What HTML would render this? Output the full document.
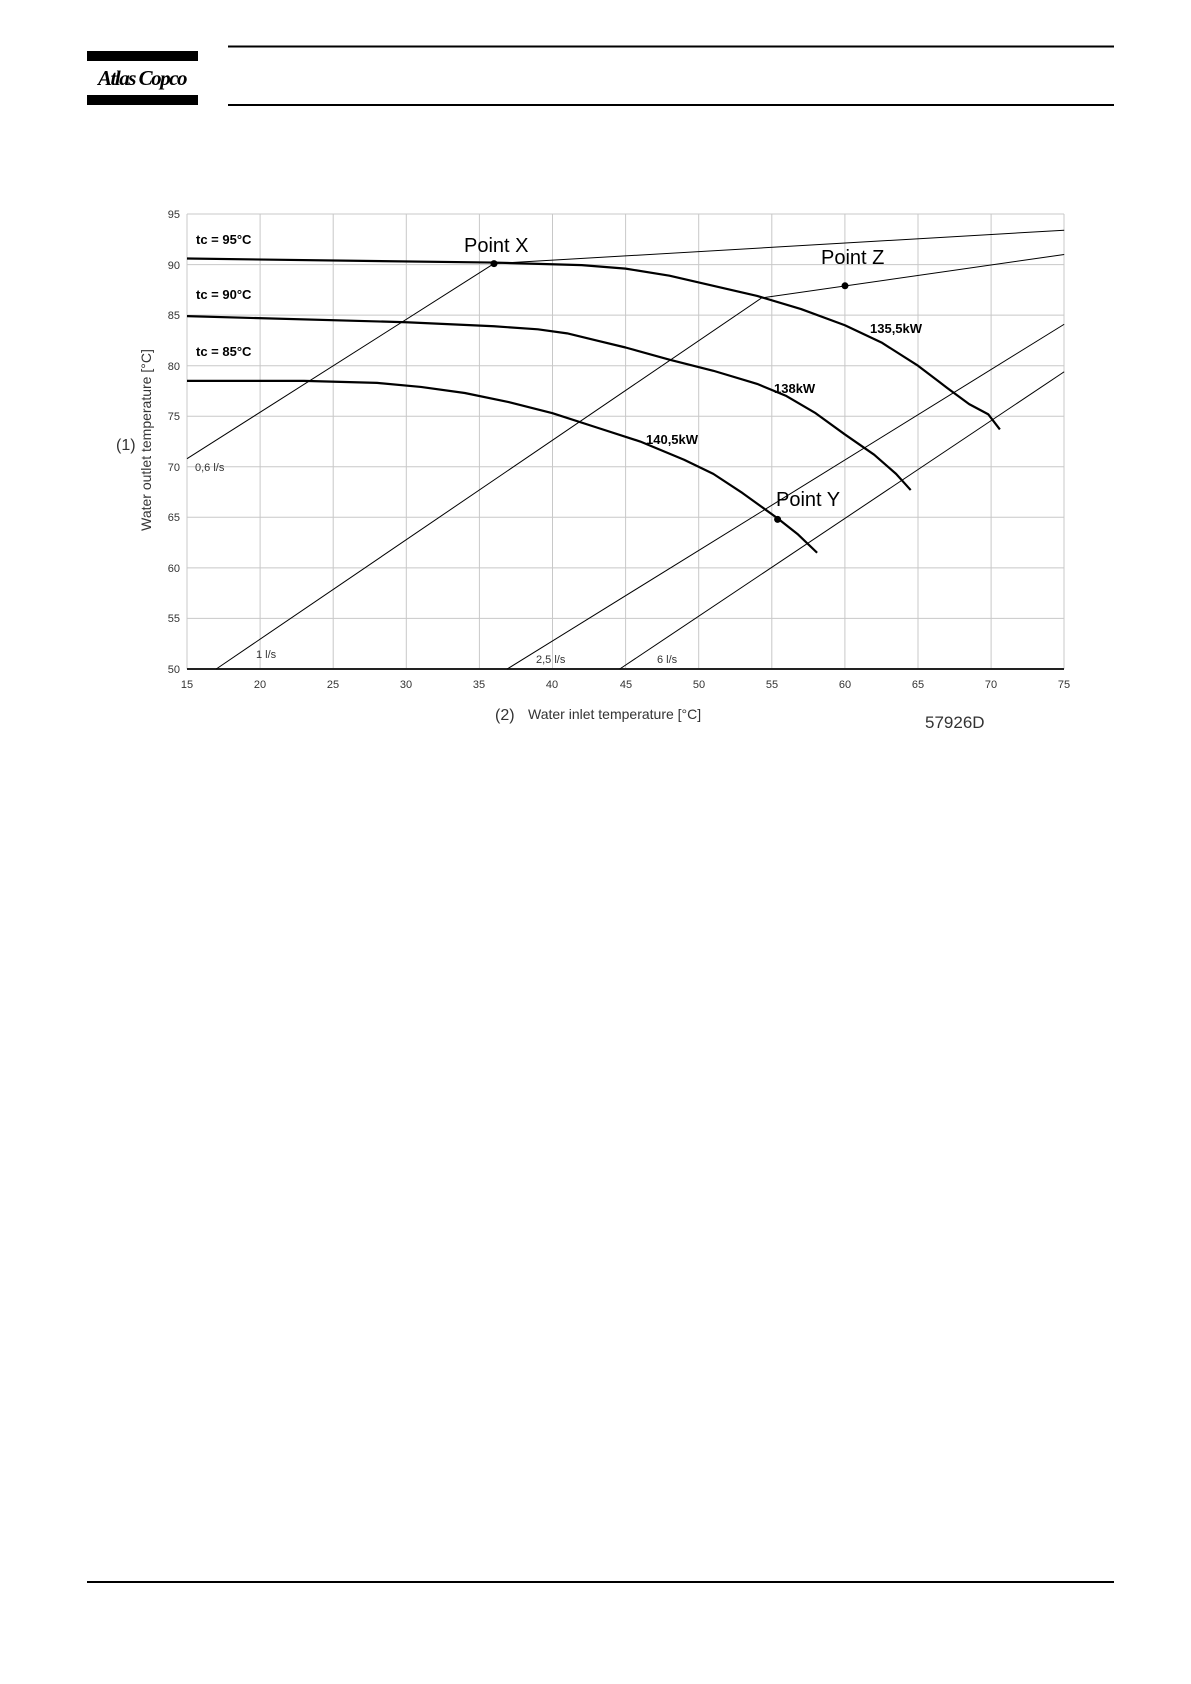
<!DOCTYPE html>
<html><head><meta charset="utf-8"><style>
body{margin:0;background:#fff;width:1191px;height:1684px;position:relative;overflow:hidden;font-family:"Liberation Sans",sans-serif}
</style></head><body>
<svg width="1191" height="1684" style="position:absolute;left:0;top:0">
<rect x="87" y="51" width="111" height="10" fill="#000"/>
<rect x="87" y="95" width="111" height="10" fill="#000"/>
<text x="142" y="85" text-anchor="middle" font-family="Liberation Serif" font-style="italic" font-weight="bold" font-size="21" letter-spacing="-1.5">Atlas Copco</text>
<line x1="228" y1="46.5" x2="1114" y2="46.5" stroke="#000" stroke-width="2"/>
<line x1="228" y1="105" x2="1114" y2="105" stroke="#000" stroke-width="2"/>
<line x1="87" y1="1582" x2="1114" y2="1582" stroke="#000" stroke-width="2"/>
<g stroke="#c8c8c8" stroke-width="1">
<line x1="187" y1="214" x2="1064" y2="214"/><line x1="187" y1="264.6" x2="1064" y2="264.6"/><line x1="187" y1="315.1" x2="1064" y2="315.1"/><line x1="187" y1="365.7" x2="1064" y2="365.7"/><line x1="187" y1="416.2" x2="1064" y2="416.2"/><line x1="187" y1="466.8" x2="1064" y2="466.8"/><line x1="187" y1="517.3" x2="1064" y2="517.3"/><line x1="187" y1="567.9" x2="1064" y2="567.9"/><line x1="187" y1="618.4" x2="1064" y2="618.4"/>
<line x1="187" y1="214" x2="187" y2="669"/><line x1="260.1" y1="214" x2="260.1" y2="669"/><line x1="333.2" y1="214" x2="333.2" y2="669"/><line x1="406.3" y1="214" x2="406.3" y2="669"/><line x1="479.4" y1="214" x2="479.4" y2="669"/><line x1="552.5" y1="214" x2="552.5" y2="669"/><line x1="625.6" y1="214" x2="625.6" y2="669"/><line x1="698.7" y1="214" x2="698.7" y2="669"/><line x1="771.8" y1="214" x2="771.8" y2="669"/><line x1="844.9" y1="214" x2="844.9" y2="669"/><line x1="918" y1="214" x2="918" y2="669"/><line x1="991.1" y1="214" x2="991.1" y2="669"/><line x1="1064" y1="214" x2="1064" y2="669"/>
</g>
<line x1="187" y1="669" x2="1064" y2="669" stroke="#222" stroke-width="2"/>
<g transform="translate(-32.3,1174.5) scale(14.62,-10.11)" fill="none" stroke="#000">
<polyline vector-effect="non-scaling-stroke" stroke-width="1" points="36,90.1 75,93.4"/>
<polyline vector-effect="non-scaling-stroke" stroke-width="1" points="15,70.8 36,90.1"/>
<polyline vector-effect="non-scaling-stroke" stroke-width="1" points="17,50 54.3,86.7 75,91"/>
<polyline vector-effect="non-scaling-stroke" stroke-width="1" points="36.9,50 75,84.1"/>
<polyline vector-effect="non-scaling-stroke" stroke-width="1" points="44.6,50 75,79.4"/>
<polyline vector-effect="non-scaling-stroke" stroke-width="2.2" stroke-linejoin="round" points="15,90.6 36,90.2 42,89.95 45,89.6 48,88.9 51,87.9 54,86.9 57,85.6 60,84 62.5,82.3 65,80 67,77.8 68.5,76.2 69.8,75.2 70.6,73.7"/>
<polyline vector-effect="non-scaling-stroke" stroke-width="2.2" stroke-linejoin="round" points="15,84.9 30,84.3 36,83.9 39,83.6 41,83.2 43,82.5 45,81.8 48,80.6 51,79.5 54,78.2 56,77 58,75.3 60,73.2 62,71.2 63.5,69.3 64.5,67.7"/>
<polyline vector-effect="non-scaling-stroke" stroke-width="2.2" stroke-linejoin="round" points="15,78.5 23,78.5 28,78.3 31,77.9 34,77.3 37,76.4 40,75.3 43,73.9 46,72.5 49,70.7 51,69.3 53,67.4 55.4,64.9 56.8,63.3 58.1,61.5"/>
</g>
<circle cx="494" cy="263.6" r="3.5"/><circle cx="845" cy="285.8" r="3.5"/><circle cx="777.6" cy="519.4" r="3.5"/>
<g font-size="11" fill="#333" text-anchor="end">
<text x="180" y="218">95</text><text x="180" y="269">90</text><text x="180" y="319">85</text><text x="180" y="370">80</text><text x="180" y="420">75</text><text x="180" y="471">70</text><text x="180" y="521">65</text><text x="180" y="572">60</text><text x="180" y="622">55</text><text x="180" y="673">50</text>
</g>
<g font-size="11" fill="#333" text-anchor="middle">
<text x="187" y="688">15</text><text x="260" y="688">20</text><text x="333" y="688">25</text><text x="406" y="688">30</text><text x="479" y="688">35</text><text x="552" y="688">40</text><text x="626" y="688">45</text><text x="699" y="688">50</text><text x="772" y="688">55</text><text x="845" y="688">60</text><text x="918" y="688">65</text><text x="991" y="688">70</text><text x="1064" y="688">75</text>
</g>
<g font-weight="bold" font-size="13">
<text x="196" y="244">tc = 95°C</text><text x="196" y="299">tc = 90°C</text><text x="196" y="356">tc = 85°C</text>
<text x="870" y="333">135,5kW</text><text x="774" y="393">138kW</text><text x="646" y="444">140,5kW</text>
</g>
<g font-size="20">
<text x="464" y="252">Point X</text><text x="821" y="264">Point Z</text><text x="776" y="506">Point Y</text>
</g>
<g font-size="11" fill="#333">
<text x="195" y="471">0,6 l/s</text><text x="256" y="658">1 l/s</text><text x="536" y="663">2,5 l/s</text><text x="657" y="663">6 l/s</text>
</g>
<text x="151" y="440" font-size="14" fill="#333" transform="rotate(-90 151 440)" text-anchor="middle">Water outlet temperature [°C]</text>
<text x="116" y="450" font-size="16" fill="#333">(1)</text>
<text x="495" y="720" font-size="16" fill="#333">(2)</text>
<text x="528" y="719" font-size="14" fill="#333">Water inlet temperature [°C]</text>
<text x="925" y="728" font-size="17" fill="#333">57926D</text>
</svg>
</body></html>
